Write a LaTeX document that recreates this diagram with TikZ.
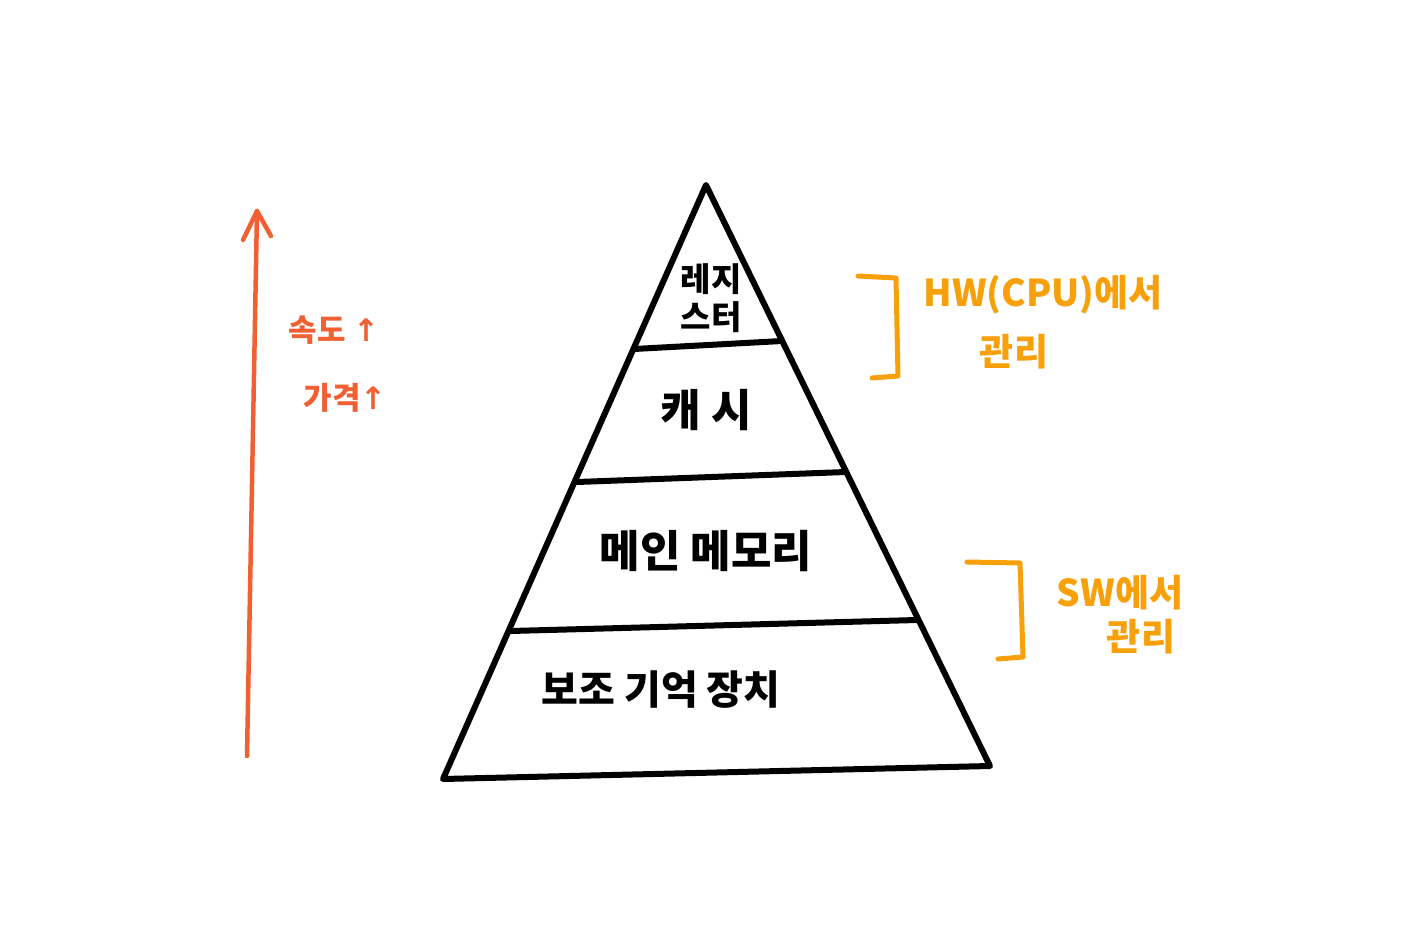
\documentclass[tikz,border=0pt]{standalone}
\usepackage{fontspec}
\newfontfamily\kr{Noto Sans CJK KR}
\newfontfamily\sym{DejaVu Sans}
\definecolor{speedred}{HTML}{F06033}
\definecolor{mgmtorange}{HTML}{F7A00A}
\begin{document}
\begin{tikzpicture}[x=1pt,y=-1pt,
  pyr/.style={line width=6pt,line join=round,line cap=round,draw=black},
  lvl/.style={font=\kr\bfseries\fontsize{44}{48}\selectfont,text=black,align=center,inner sep=0pt},
  redtxt/.style={font=\kr\bfseries\fontsize{31}{34}\selectfont,text=speedred,inner sep=0pt},
  orgtxt/.style={font=\kr\bfseries\fontsize{37}{40}\selectfont,text=mgmtorange,align=center,inner sep=0pt},
  brk/.style={line width=5pt,draw=mgmtorange,line cap=round,line join=round}]
\useasboundingbox (0,0) rectangle (1406,942);
% pyramid
\coordinate (apex) at (706,185);
\coordinate (bl) at (443,779);
\coordinate (br) at (990,766);
\coordinate (l1) at (634,349); \coordinate (r1) at (782,341);
\coordinate (l2) at (577,482); \coordinate (r2) at (846,472);
\coordinate (l3) at (511,631); \coordinate (r3) at (917,620);
\draw[pyr] (apex) -- (bl) -- (br) -- cycle;
\draw[pyr] (l1) -- (r1);
\draw[pyr] (l2) -- (r2);
\draw[pyr] (l3) -- (r3);
\node[lvl,font=\kr\bfseries\fontsize{33}{38}\selectfont] (reg) at (711,298) {레지\\스터};
\node[lvl] (cache) at (706,410) {캐 시};
\node[lvl] (main) at (706,551) {메인 메모리};
\node[lvl,font=\kr\bfseries\fontsize{40}{44}\selectfont] (aux) at (661,690) {보조 기억 장치};
% red arrow
\coordinate (as) at (247,756);
\coordinate (ae) at (257,211);
\draw[speedred,line width=4.5pt,line cap=round] (as) -- (ae);
\draw[speedred,line width=4.5pt,line cap=round,line join=round] (243,240) -- (ae) -- (271,236);
\node[redtxt] (speed) at (334,330) {속도 {\sym\bfseries↑}};
\node[redtxt] (price) at (345,398) {가격{\sym\bfseries↑}};
% brackets
\coordinate (h1) at (858,276); \coordinate (h2) at (896,278);
\coordinate (h3) at (898,376); \coordinate (h4) at (872,378);
\draw[brk] (h1) -- (h2) -- (h3) -- (h4);
\node[orgtxt] (hw) at (1043,295) {HW(CPU)에서};
\node[orgtxt] (hwm) at (1014,352) {관리};
\coordinate (s1) at (967,562); \coordinate (s2) at (1020,563);
\coordinate (s3) at (1023,657); \coordinate (s4) at (998,659);
\draw[brk] (s1) -- (s2) -- (s3) -- (s4);
\node[orgtxt] (sw) at (1120,593) {SW에서};
\node[orgtxt] (swm) at (1141,637) {관리};
\end{tikzpicture}
\end{document}
